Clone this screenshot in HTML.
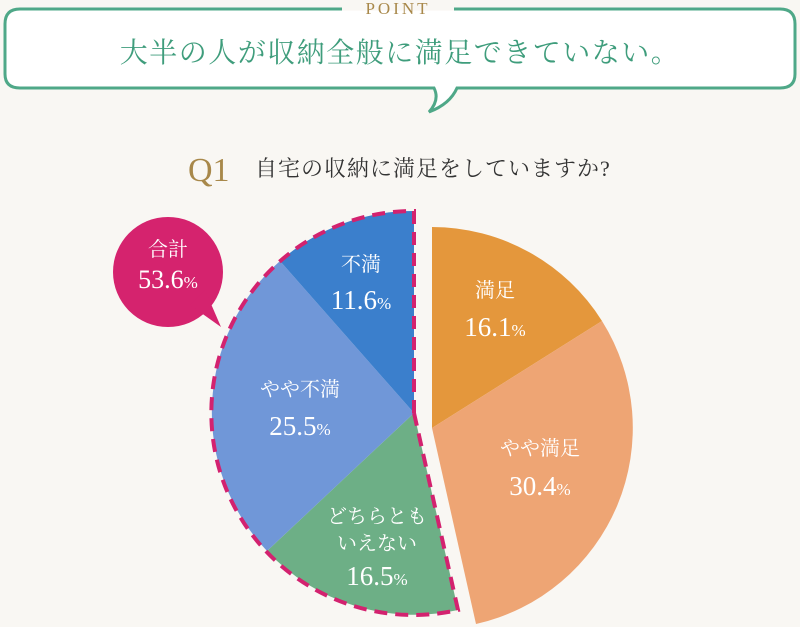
<!DOCTYPE html>
<html><head><meta charset="utf-8"><style>
html,body{margin:0;padding:0;background:#f9f7f3;}
svg{display:block;}
.s{font-family:"Liberation Serif","Noto Serif CJK SC",serif;}
</style></head><body>
<svg width="800" height="627" viewBox="0 0 800 627" xmlns="http://www.w3.org/2000/svg">
<rect width="800" height="627" fill="#f9f7f3"/>
<path d="M20,9 H780 Q795,9 795,24 V74 Q795,88 780,88 H457 Q450,104 429,112 Q440,100 434,88 H20 Q5,88 5,74 V24 Q5,9 20,9 Z" fill="#fff" stroke="#4fa888" stroke-width="3"/>
<rect x="342" y="0" width="112" height="10.6" fill="#f9f7f3"/>
<text x="398" y="14" text-anchor="middle" class="s" font-size="17" fill="#a8884a" letter-spacing="3">POINT</text>
<text x="400" y="62" text-anchor="middle" class="s" font-size="28" fill="#3f9d7c" letter-spacing="1.5">大半の人が収納全般に満足できていない。</text>
<text x="188" y="181" class="s" font-size="34" fill="#a8884a">Q1</text>
<text x="255" y="176" class="s" font-size="22" fill="#333" letter-spacing="1">自宅の収納に満足をしていますか?</text>
<path d="M432,428 L432,227 A201,201 0 0 1 602,321 Z" fill="#e4973c"/>
<path d="M432,428 L602,321 A201,201 0 0 1 476,624 Z" fill="#eea574"/>
<path d="M414,413 L458,610 A202,202 0 0 1 267,551 Z" fill="#6daf86"/>
<path d="M414,413 L267,551 A202,202 0 0 1 280,261 Z" fill="#7097d8"/>
<path d="M414,413 L280,261 A202,202 0 0 1 414,211 Z" fill="#3b7fcc"/>
<path d="M414,413 L458,610 A202,202 0 1 1 414,211 Z" fill="none" stroke="#d3226f" stroke-width="4" stroke-dasharray="13,8"/>
<circle cx="168" cy="272" r="55" fill="#d5236e"/>
<path d="M190,305 L221,327 L205,290 Z" fill="#d5236e"/>
<text x="168" y="256" text-anchor="middle" class="s" font-size="20" fill="#fff">合計</text>
<text x="168" y="288" text-anchor="middle" class="s" font-size="26" fill="#fff">53.6<tspan font-size="17">%</tspan></text>
<g class="s" fill="#fff" text-anchor="middle">
<text x="361" y="271" font-size="20">不満</text>
<text x="361" y="309" font-size="27">11.6<tspan font-size="17">%</tspan></text>
<text x="495" y="297" font-size="20">満足</text>
<text x="495" y="336" font-size="27">16.1<tspan font-size="17">%</tspan></text>
<text x="540" y="455" font-size="20">やや満足</text>
<text x="540" y="495" font-size="27">30.4<tspan font-size="17">%</tspan></text>
<text x="300" y="396" font-size="20">やや不満</text>
<text x="300" y="435" font-size="27">25.5<tspan font-size="17">%</tspan></text>
<text x="377" y="523" font-size="20">どちらとも</text>
<text x="377" y="550" font-size="20">いえない</text>
<text x="377" y="585" font-size="27">16.5<tspan font-size="17">%</tspan></text>
</g>
</svg>
</body></html>
